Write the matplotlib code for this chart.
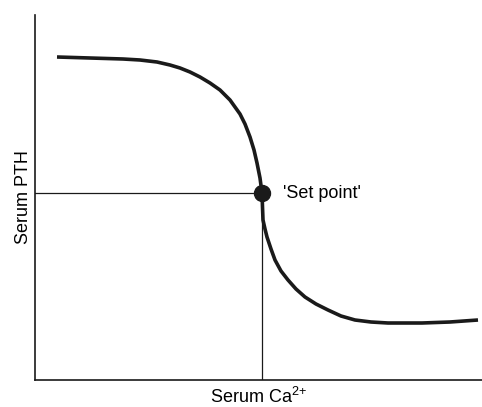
import matplotlib.pyplot as plt

plt.rcParams['font.family'] = ['Liberation Sans', 'DejaVu Sans']
plt.rcParams['mathtext.default'] = 'regular'

# curve (arbitrary units)
ca_values = [22, 55, 88, 105, 122, 135, 145, 155, 165, 175, 185, 195, 205, 210, 215, 219,
             222, 225, 227, 227.5, 228, 230, 232, 236, 240, 246, 253, 261, 270, 281, 293,
             306, 320, 336, 353, 387, 415, 443]
pth_values = [323, 322, 321, 320, 318, 315, 312, 308, 303, 297, 290, 280, 266, 256, 243, 230,
              217, 202, 187, 173, 160, 151, 143, 131, 120, 109, 100, 91, 83, 76, 70,
              64, 60, 58, 57, 57, 58, 60]

set_point_ca = 227
set_point_pth = 187
set_point_label = "'Set point'"

fig = plt.figure(figsize=(4.82, 4.07), dpi=100)
ax = fig.add_axes([35 / 482, 27 / 407, 447 / 482, 365 / 407])

ax.plot(ca_values, pth_values, color='#1a1a1a', lw=2.6,
        solid_capstyle='butt', solid_joinstyle='round')

# guide lines to the axes
ax.plot([0, set_point_ca], [set_point_pth, set_point_pth], color='#1a1a1a', lw=0.9)
ax.plot([set_point_ca, set_point_ca], [0, set_point_pth], color='#1a1a1a', lw=0.9)
ax.plot(set_point_ca, set_point_pth, 'o', color='#1a1a1a', ms=11.5, zorder=5)
ax.text(set_point_ca + 21, set_point_pth - 1, set_point_label, va='center', ha='left', fontsize=13)

ax.set_xlim(0, 447)
ax.set_ylim(0, 365)
ax.set_xticks([])
ax.set_yticks([])
for side in ['top', 'right']:
    ax.spines[side].set_visible(False)
for side in ['left', 'bottom']:
    ax.spines[side].set_linewidth(1.2)
    ax.spines[side].set_color('#1a1a1a')

ax.set_xlabel('Serum Ca$^{2{+}}$', fontsize=13, labelpad=5)
ax.set_ylabel('Serum PTH', fontsize=13, labelpad=2)

fig.savefig('out.png', dpi=100)
